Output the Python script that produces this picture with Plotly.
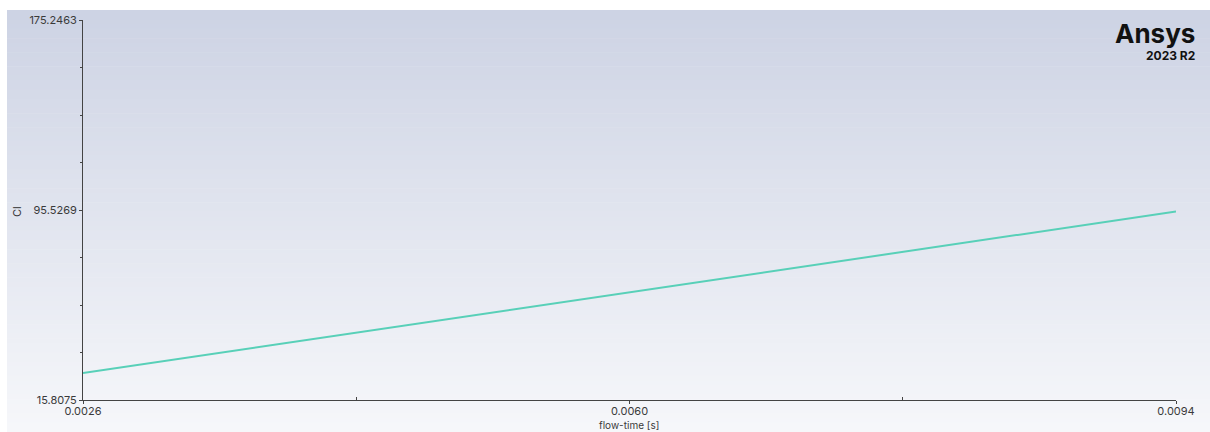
import plotly.graph_objects as go

# Cl history over flow time
flow_time = [0.0026, 0.0043, 0.0060, 0.0077, 0.0094]
cl_values = [27.1, 44.0, 60.9, 77.9, 94.9]

x_tick_vals = [0.0026, 0.0060, 0.0094]
x_tick_text = ["0.0026", "0.0060", "0.0094"]
y_tick_vals = [15.8075, 95.5269, 175.2463]
y_tick_text = ["15.8075", "95.5269", "175.2463"]

W, H = 1210, 432
FONT = "Inter, Roboto, sans-serif"
L, R, T, B = 83, 34, 20, 32
pw, ph = W - L - R, H - T - B


def px_x(px):
    return (px - L) / pw


def px_y(py_from_top):
    return (H - py_from_top - B) / ph


fig = go.Figure()
fig.add_trace(go.Scatter(
    x=flow_time, y=cl_values, mode="lines",
    line=dict(color="rgb(88,208,184)", width=2),
    showlegend=False, hoverinfo="skip",
))

# vertical gradient backdrop built from thin strips
shapes = []
n = 90
top_px, bot_px = 10, H
c_top = (205, 211, 228)
c_bot = (246, 247, 250)
for i in range(n):
    t = i / (n - 1)
    r = round(c_top[0] + (c_bot[0] - c_top[0]) * t)
    g = round(c_top[1] + (c_bot[1] - c_top[1]) * t)
    b = round(c_top[2] + (c_bot[2] - c_top[2]) * t)
    ya = top_px + (bot_px - top_px) * i / n
    yb = top_px + (bot_px - top_px) * (i + 1) / n + 0.6
    shapes.append(dict(
        type="rect", xref="paper", yref="paper",
        x0=px_x(7), x1=px_x(W), y0=px_y(yb), y1=px_y(ya),
        fillcolor=f"rgb({r},{g},{b})", line=dict(width=0), layer="below",
    ))

fig.update_layout(
    width=W, height=H,
    margin=dict(l=L, r=R, t=T, b=B, autoexpand=False),
    paper_bgcolor="white",
    plot_bgcolor="rgba(0,0,0,0)",
    shapes=shapes,
    font=dict(family=FONT, size=11, color="#3a3a3a"),
    xaxis=dict(
        range=[0.0026, 0.0094], automargin=False,
        tickvals=x_tick_vals, ticktext=x_tick_text,
        ticks="outside", ticklen=3, tickcolor="#444", ticklabelstandoff=-2,
        minor=dict(tickvals=[0.0043, 0.0077], ticks="inside", ticklen=3, tickcolor="#444"),
        showline=True, linecolor="#444", linewidth=1,
        showgrid=False, zeroline=False,
    ),
    yaxis=dict(
        range=[15.8075, 175.2463], automargin=False,
        tickvals=y_tick_vals, ticktext=y_tick_text,
        ticks="outside", ticklen=3, tickcolor="#444",
        minor=dict(
            tickvals=[15.8075 + k * (175.2463 - 15.8075) / 8 for k in (1, 2, 3, 5, 6, 7)],
            ticks="outside", ticklen=2, tickcolor="#444",
        ),
        showline=True, linecolor="#444", linewidth=1,
        showgrid=False, zeroline=False,
    ),
    annotations=[
        dict(text="<b>Ansys</b>", xref="paper", yref="paper",
             x=px_x(1197), y=px_y(33), xanchor="right", yanchor="middle",
             showarrow=False, font=dict(family=FONT, size=26, color="#111")),
        dict(text="<b>2023 R2</b>", xref="paper", yref="paper",
             x=px_x(1197), y=px_y(56), xanchor="right", yanchor="middle",
             showarrow=False, font=dict(family=FONT, size=12, color="#111")),
        # axis titles
        dict(text="Cl", xref="paper", yref="paper", textangle=-90,
             x=px_x(17), y=px_y(212), xanchor="center", yanchor="middle",
             showarrow=False, font=dict(family=FONT, size=11, color="#3a3a3a")),
        dict(text="flow-time [s]", xref="paper", yref="paper",
             x=px_x(629), y=px_y(425), xanchor="center", yanchor="middle",
             showarrow=False, font=dict(family=FONT, size=10, color="#3a3a3a")),
    ],
)

fig.write_html("out.html")
